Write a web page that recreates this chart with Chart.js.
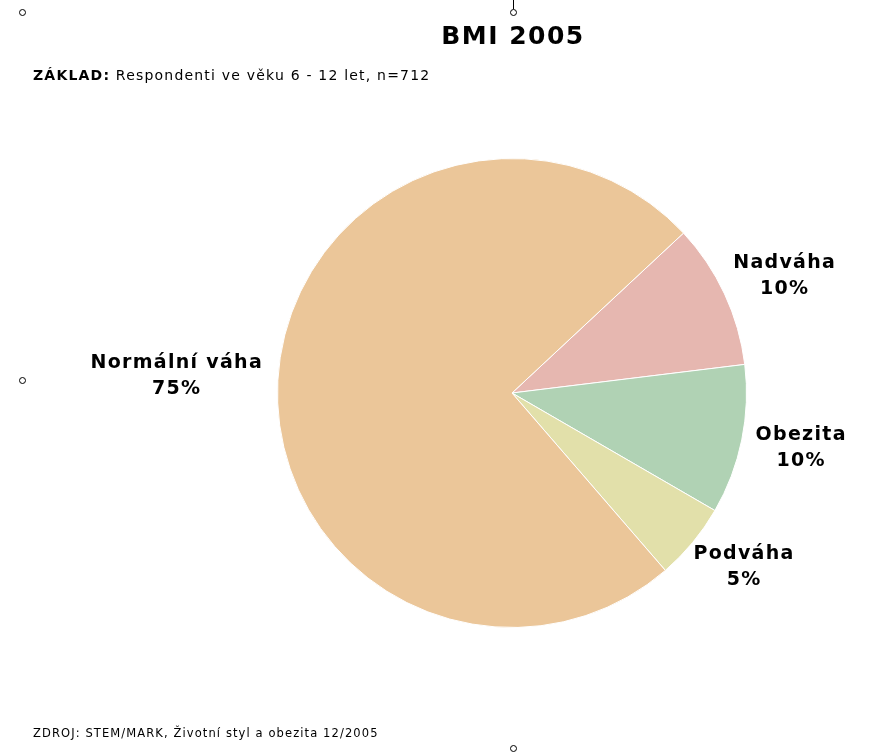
<!DOCTYPE html>
<html>
<head>
<meta charset="utf-8">
<script src="https://cdn.jsdelivr.net/npm/chart.js@4"></script>
<style>
  html, body { margin: 0; padding: 0; background: #fff; }
  #wrap { position: relative; width: 891px; height: 752px; overflow: hidden; font-family: "DejaVu Sans", Verdana, sans-serif; }
  #chart { position: absolute; left: 0; top: 0; }
  .title { position: absolute; left: 0; top: 21px; width: 1026px; text-align: center; font-weight: bold; font-size: 25px; letter-spacing: 1.5px; color: #000; }
  .sub { position: absolute; left: 33px; top: 67px; font-size: 14px; letter-spacing: 1.2px; color: #000; }
  .src { position: absolute; left: 33px; top: 726px; font-size: 11.5px; letter-spacing: 1.1px; color: #000; }
</style>
</head>
<body>
<div id="wrap">
  <canvas id="chart" width="891" height="752"></canvas>
  <div class="title">BMI 2005</div>
  <div class="sub"><b>ZÁKLAD:</b> Respondenti ve věku 6 - 12 let, n=712</div>
  <div class="src">ZDROJ: STEM/MARK, Životní styl a obezita 12/2005</div>
</div>
<script>
const categories = ['Nadváha', 'Obezita', 'Podváha', 'Normální váha'];
const shares = [10.0, 10.3, 5.3, 74.4];
const shareLabels = ['10%', '10%', '5%', '75%'];
const colors = ['#E6B7B0', '#B0D2B4', '#E2E0AA', '#EBC699'];

// outside labels: name + percent, a bit beyond the rim, pulled slightly toward the horizontal
const outsideLabels = {
  id: 'outsideLabels',
  afterDatasetsDraw(chart) {
    const ctx = chart.ctx;
    const meta = chart.getDatasetMeta(0);
    ctx.save();
    ctx.font = 'bold 19px "DejaVu Sans", Verdana, sans-serif';
    ctx.letterSpacing = '1.3px';
    ctx.fillStyle = '#000';
    ctx.textAlign = 'center';
    ctx.textBaseline = 'middle';
    meta.data.forEach((arc, i) => {
      let mid = (arc.startAngle + arc.endAngle) / 2;
      const base = Math.cos(mid) >= 0 ? 0 : Math.PI;
      const d = Math.atan2(Math.sin(mid - base), Math.cos(mid - base));
      mid = base + d * 0.93;
      const half = Math.max(ctx.measureText(categories[i]).width, ctx.measureText(shareLabels[i]).width) / 2;
      const r = arc.outerRadius + 15 + half * Math.abs(Math.cos(mid));
      const x = arc.x + Math.cos(mid) * r;
      const y = arc.y + Math.sin(mid) * r;
      ctx.fillText(categories[i], x, y - 13);
      ctx.fillText(shareLabels[i], x, y + 13);
    });
    ctx.restore();
  }
};

// selection handles of the original chart object
const handles = {
  id: 'handles',
  afterDraw(chart) {
    const ctx = chart.ctx;
    ctx.save();
    ctx.strokeStyle = '#000';
    ctx.lineWidth = 1;
    ctx.beginPath();
    ctx.moveTo(513.5, 0);
    ctx.lineTo(513.5, 9);
    ctx.stroke();
    [[22.5, 12.5], [513.5, 12.5], [22.5, 380.5], [513.5, 748.5]].forEach(([x, y]) => {
      ctx.beginPath();
      ctx.arc(x, y, 3, 0, Math.PI * 2);
      ctx.fillStyle = '#fff';
      ctx.fill();
      ctx.stroke();
    });
    ctx.restore();
  }
};

new Chart(document.getElementById('chart'), {
  type: 'pie',
  data: {
    labels: categories,
    datasets: [{
      data: shares,
      backgroundColor: colors,
      borderColor: '#fff',
      borderWidth: 1
    }]
  },
  options: {
    responsive: false,
    animation: false,
    rotation: 47,
    layout: { padding: { left: 277, right: 144, top: 158, bottom: 124 } },
    plugins: {
      legend: { display: false },
      tooltip: { enabled: false }
    }
  },
  plugins: [outsideLabels, handles]
});
</script>
</body>
</html>
